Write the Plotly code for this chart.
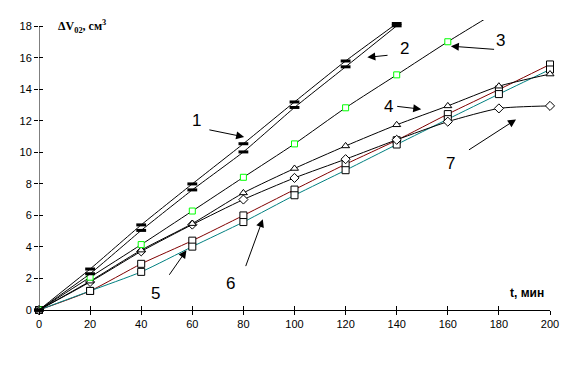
import plotly.graph_objects as go

# ---- data ----
t_short = [0, 20, 40, 60, 80, 100, 120, 140]
t_mid = [0, 20, 40, 60, 80, 100, 120, 140, 160, 180]
t_full = [0, 20, 40, 60, 80, 100, 120, 140, 160, 180, 200]

s1 = [0, 2.6, 5.4, 8.0, 10.55, 13.2, 15.8, 18.18]
s2 = [0, 2.3, 5.05, 7.62, 10.03, 12.85, 15.43, 18.03]
s3 = [0, 2.08, 4.15, 6.28, 8.42, 10.54, 12.83, 14.92, 17.02, 19.0]
s4 = [0, 1.83, 3.8, 5.48, 7.43, 8.98, 10.41, 11.75, 12.95, 14.2, 14.97]
s5 = [0, 1.21, 2.93, 4.4, 6.0, 7.64, 9.25, 10.77, 12.43, 13.99, 15.58]
s6 = [0, 1.21, 2.42, 4.02, 5.58, 7.28, 8.87, 10.5, 12.11, 13.7, 15.26]
s7 = [0, 1.78, 3.72, 5.42, 7.01, 8.38, 9.57, 10.8, 11.95, 12.79, 12.95]

x_ticks = [0, 20, 40, 60, 80, 100, 120, 140, 160, 180, 200]
y_ticks = [0, 2, 4, 6, 8, 10, 12, 14, 16, 18]

curve_labels = ["1", "2", "3", "4", "5", "6", "7"]
# label positions and arrows (tail -> head) in data units
label_pos = [(61.6, 12.0), (143.1, 16.6), (180.7, 17.1), (136.6, 12.93),
             (45.7, 1.04), (75.1, 1.71), (161.2, 9.3)]
arrow_tail = [(66.1, 11.45), (137.0, 16.17), (178.7, 16.53), (139.6, 12.93),
              (50.6, 2.14), (80.7, 2.69), (167.7, 10.1)]
arrow_head = [(80.3, 10.98), (128.5, 16.03), (161.2, 16.74), (149.6, 12.74),
              (57.7, 3.79), (87.6, 5.76), (186.7, 12.09)]

Y_MAX = 18.4

fig = go.Figure()

def add(x, y, color, symbol, mcolor, size, mlw=1, clip=False, smooth=0.6):
    fig.add_trace(go.Scatter(
        x=x, y=y, mode="lines+markers",
        line=dict(color=color, width=1, shape="spline", smoothing=smooth),
        marker=dict(symbol=symbol, size=size, color="white",
                    line=dict(color=mcolor, width=mlw)),
        cliponaxis=clip, showlegend=False, hoverinfo="skip"))

add(t_full, s5, "#800000", "square", "black", 7)
add(t_full, s6, "#008080", "square", "black", 7)
add(t_full, s7, "black", "diamond", "black", 7)
add(t_full, s4, "black", "triangle-up", "black", 7)
add(t_mid, s3, "black", "square", "#00FF00", 6, clip=True)
# dash-marker series
for y in (s2, s1):
    fig.add_trace(go.Scatter(
        x=t_short, y=y, mode="lines+markers",
        line=dict(color="black", width=1, shape="spline", smoothing=0.4),
        marker=dict(symbol="line-ew", size=7, line=dict(color="black", width=3)),
        cliponaxis=False, showlegend=False, hoverinfo="skip"))

# overlay trace for crossing ticks
fig.add_trace(go.Scatter(x=[None], y=[None], xaxis="x2", yaxis="y2",
                         showlegend=False, hoverinfo="skip"))

ann = []
for lab, (lx, ly) in zip(curve_labels, label_pos):
    ann.append(dict(x=lx, y=ly, xref="x", yref="y", text=lab, showarrow=False,
                    font=dict(family="Liberation Sans", size=17, color="black")))
for (tx, ty), (hx, hy) in zip(arrow_tail, arrow_head):
    ann.append(dict(x=hx, y=hy, ax=tx, ay=ty, xref="x", yref="y",
                    axref="x", ayref="y", text="", showarrow=True,
                    arrowhead=2, arrowsize=1.6, arrowwidth=1,
                    arrowcolor="black", standoff=0, startstandoff=0))
ann.append(dict(x=6.8, y=17.97, xref="x", yref="y", xanchor="left",
                text="<b>ΔV<sub>02</sub>, см<sup>3</sup></b>", showarrow=False,
                font=dict(family="Liberation Serif", size=12, color="black")))
ann.append(dict(x=191.1, y=1.08, xref="x", yref="y",
                text="<b>t, мин</b>", showarrow=False,
                font=dict(family="Liberation Sans", size=12, color="black")))

axis_font = dict(family="Liberation Sans", size=11, color="black")
fig.update_layout(
    width=577, height=373,
    margin=dict(l=28.5, r=34.5, t=11.7, b=71),
    paper_bgcolor="white", plot_bgcolor="white",
    xaxis=dict(range=[0, 200], tickvals=x_ticks, ticks="outside", ticklen=4,
               tickcolor="black", showline=True, linecolor="black", linewidth=1,
               showgrid=False, zeroline=False, tickfont=axis_font),
    yaxis=dict(range=[0, Y_MAX], tickvals=y_ticks, ticks="outside", ticklen=4,
               tickcolor="black", showline=False, showgrid=False, zeroline=False,
               tickfont=axis_font),
    xaxis2=dict(range=[0, 200], tickvals=x_ticks, ticks="inside", ticklen=4,
                tickcolor="black", overlaying="x", anchor="y2", side="bottom",
                showticklabels=False, showline=False, showgrid=False, zeroline=False),
    yaxis2=dict(range=[0, Y_MAX], tickvals=y_ticks, ticks="inside", ticklen=4,
                tickcolor="black", overlaying="y", anchor="x2", side="left",
                showticklabels=False, showline=False, showgrid=False, zeroline=False),
    shapes=[dict(type="line", xref="x", yref="y", x0=0, x1=0, y0=0, y1=18,
                 line=dict(color="black", width=1))],
    annotations=ann,
)

fig.write_html("out.html")
